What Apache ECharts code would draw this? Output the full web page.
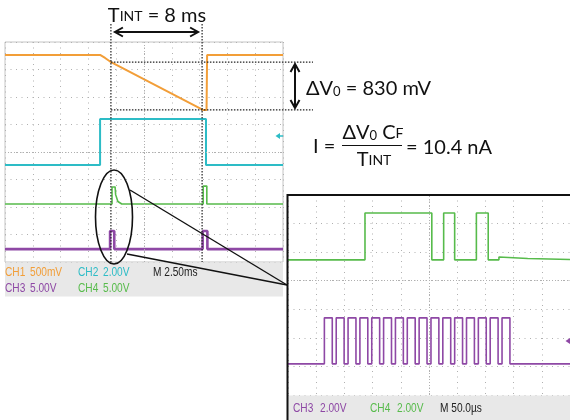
<!DOCTYPE html>
<html><head><meta charset="utf-8">
<script src="https://cdn.jsdelivr.net/npm/echarts@6/dist/echarts.min.js"></script>
<style>html,body{margin:0;padding:0;background:#fff}#c{width:570px;height:420px}</style>
</head><body><div id="c"></div>
<script>
// ---- main scope view (2.50 ms/div): x in divisions 0..10, y in divisions 0..8 ----
const ch1T = [0, 3.42, 3.6, 3.78, 7.12, 7.25, 7.27, 10];
const ch1V = [7.53, 7.53, 7.42, 7.29, 5.53, 5.53, 7.53, 7.53];
const ch2T = [0, 3.42, 3.42, 7.23, 7.23, 10];
const ch2V = [3.53, 3.53, 5.2, 5.2, 3.53, 3.53];
const ch4T = [0, 3.85, 3.85, 3.96, 3.98, 4.06, 4.2, 7.13, 7.13, 7.26, 7.26, 10];
const ch4V = [2.11, 2.11, 2.73, 2.73, 2.45, 2.2, 2.11, 2.11, 2.76, 2.76, 2.11, 2.11];
const ch3T = [0, 3.78, 3.78, 3.93, 3.93, 7.11, 7.11, 7.28, 7.28, 10];
const ch3V = [0.47, 0.47, 1.13, 1.13, 0.47, 0.47, 1.13, 1.13, 0.47, 0.47];
// cursors
const cursorT = [3.81, 7.09];
const cursorV = [7.27, 5.53];

// ---- zoomed view (50.0 us/div): x 0..10, y 0..7 ----
const zGreenT = [0, 2.73, 2.73, 5.10, 5.10, 5.52, 5.52, 5.91, 5.91, 6.68, 6.68, 7.10, 7.10, 7.48, 7.48, 8.5, 10];
const zGreenV = [4.73, 4.73, 6.37, 6.37, 4.73, 4.73, 6.37, 6.37, 4.73, 4.73, 6.37, 6.37, 4.73, 4.73, 4.83, 4.78, 4.74];
const zPurpleRise = [1.29, 1.71, 2.13, 2.55, 2.97, 3.39, 3.81, 4.23, 4.65, 5.07, 5.49, 5.91, 6.33, 6.75, 7.17, 7.59];
const zPurpleFall = [1.57, 1.99, 2.41, 2.83, 3.25, 3.67, 4.09, 4.51, 4.93, 5.35, 5.77, 6.19, 6.61, 7.03, 7.45, 7.87];
const zPurpleLevels = [1.09, 2.70];

// ---- texts ----
const mainLabels = [
  ['CH1', '500mV', 'CH2', '2.00V', 'M 2.50ms'],
  ['CH3', '5.00V', 'CH4', '5.00V', '']
];
const zoomLabels = ['CH3', '2.00V', 'CH4', '2.00V', 'M 50.0\u00b5s'];

const C_OR = '#f29e38', C_CY = '#2dbcc6', C_GR = '#57bb4b', C_PU = '#8e48a5';

function pairs(t, v) { return t.map((x, i) => [x, v[i]]); }
function pulses(rise, fall, lv, t0, t1) {
  const d = [[t0, lv[0]]];
  rise.forEach((r, i) => { d.push([r, lv[0]], [r, lv[1]], [fall[i], lv[1]], [fall[i], lv[0]]); });
  d.push([t1, lv[0]]);
  return d;
}

const chart = echarts.init(document.getElementById('c'), null, { renderer: 'canvas', width: 570, height: 420 });

const split = { show: true, lineStyle: { color: '#b0b0b0', type: [1, 4.5], width: 1 } };
function ax(gi, max) {
  return { gridIndex: gi, type: 'value', min: 0, max: max, interval: 1,
    axisLabel: { show: false }, axisTick: { show: false }, axisLine: { show: false }, splitLine: split };
}
const centerMark = (x, y) => ({
  symbol: 'none', silent: true, label: { show: false }, animation: false,
  lineStyle: { type: [1, 2], color: '#b0b0b0', width: 1 },
  data: [{ xAxis: x }, { yAxis: y }]
});
function trace(gi, data, color, w, mark) {
  const s = { type: 'line', xAxisIndex: gi, yAxisIndex: gi, data: data, showSymbol: false, symbol: 'none',
    lineStyle: { color: color, width: w }, itemStyle: { color: color }, z: 3, silent: true };
  if (mark) s.markLine = mark;
  return s;
}

chart.setOption({
  animation: false,
  backgroundColor: '#fff',
  grid: [
    { left: 5, top: 42, width: 278, height: 220, show: true, borderColor: '#c4c4c4', borderWidth: 1, backgroundColor: '#fff' },
    { left: 288, top: 195, width: 286, height: 200, show: false }
  ],
  xAxis: [ax(0, 10), ax(1, 10)],
  yAxis: [ax(0, 8), ax(1, 7)],
  series: [
    trace(0, pairs(ch1T, ch1V), C_OR, 2, centerMark(5, 4)),
    trace(0, pairs(ch2T, ch2V), C_CY, 2),
    trace(0, pairs(ch4T, ch4V), C_GR, 1.6),
    trace(0, pairs(ch3T, ch3V), C_PU, 2.6),
    trace(1, pairs(zGreenT, zGreenV), C_GR, 1.6, centerMark(5, 4)),
    trace(1, pulses(zPurpleRise, zPurpleFall, zPurpleLevels, 0, 10), C_PU, 1.6)
  ]
});

// ---- annotations ----
const p = (x, y) => chart.convertToPixel({ gridIndex: 0 }, [x, y]);
const cx0 = p(cursorT[0], 0)[0], cx1 = p(cursorT[1], 0)[0];
const gBottom = p(0, 0)[1];
const cy0 = p(0, cursorV[0])[1], cy1 = p(0, cursorV[1])[1];

const lblFont = '"Liberation Sans", Arial, sans-serif';
const annFont = 'Lato, "Open Sans", sans-serif';
const dot = { stroke: '#222', lineWidth: 1.2, lineDash: [1.5, 1.5] };
const blk = { stroke: '#111', lineWidth: 1.4, fill: 'none' };

function txt(x, y, s, color) {
  return { type: 'text', x: x, y: y, z: 20, silent: true, scaleX: 0.78, scaleY: 1,
    style: { text: s, fill: color, fontSize: 13, fontFamily: lblFont, align: 'left', verticalAlign: 'middle' } };
}
function rich(x, y, s, align) {
  const base = { fill: '#111', color: '#111', fontFamily: annFont, verticalAlign: 'bottom', lineHeight: 24 };
  return { type: 'text', x: x, y: y, z: 20, silent: true,
    style: { text: s, align: align || 'left', verticalAlign: 'middle', fontFamily: annFont, fontSize: 20, fill: '#111',
      rich: {
        a: Object.assign({}, base, { fontSize: 20 }),
        b: Object.assign({}, base, { fontSize: 14, padding: [0, 0, 3, 0] }),
        s: Object.assign({}, base, { fontSize: 13, padding: [0, 0, 1, 0] })
      } } };
}
function dArrowH(x0, x1, y) {
  return [
    { type: 'line', z: 20, shape: { x1: x0, y1: y, x2: x1, y2: y }, style: { stroke: '#111', lineWidth: 2 } },
    { type: 'polyline', z: 20, shape: { points: [[x0 + 8, y - 4.5], [x0, y], [x0 + 8, y + 4.5]] }, style: { stroke: '#111', lineWidth: 2, fill: 'none' } },
    { type: 'polyline', z: 20, shape: { points: [[x1 - 8, y - 4.5], [x1, y], [x1 - 8, y + 4.5]] }, style: { stroke: '#111', lineWidth: 2, fill: 'none' } }
  ];
}
function dArrowV(x, y0, y1) {
  return [
    { type: 'line', z: 20, shape: { x1: x, y1: y0, x2: x, y2: y1 }, style: { stroke: '#111', lineWidth: 2 } },
    { type: 'polyline', z: 20, shape: { points: [[x - 4.5, y0 + 8], [x, y0], [x + 4.5, y0 + 8]] }, style: { stroke: '#111', lineWidth: 2, fill: 'none' } },
    { type: 'polyline', z: 20, shape: { points: [[x - 4.5, y1 - 8], [x, y1], [x + 4.5, y1 - 8]] }, style: { stroke: '#111', lineWidth: 2, fill: 'none' } }
  ];
}

const g = [];
// label areas
g.push({ type: 'rect', z: 5, shape: { x: 5, y: 262.5, width: 278, height: 34 }, style: { fill: '#e8e8e8' } });
g.push({ type: 'rect', z: 5, shape: { x: 288, y: 395.5, width: 290, height: 30 }, style: { fill: '#e8e8e8' } });
// main labels
const mainCols = [5, 30, 78, 103, 153];
const mainColors = [[C_OR, C_OR, C_CY, C_CY, '#222'], [C_PU, C_PU, C_GR, C_GR, '#222']];
const mainRows = [272, 288];
mainLabels.forEach((row, r) => row.forEach((s, c) => { if (s) g.push(txt(mainCols[c], mainRows[r], s, mainColors[r][c])); }));
const zCols = [293, 320, 370, 397, 440];
const zColors = [C_PU, C_PU, C_GR, C_GR, '#222'];
zoomLabels.forEach((s, c) => g.push(txt(zCols[c], 408, s, zColors[c])));
// inset frame
g.push({ type: 'rect', z: 15, shape: { x: 287.5, y: 195, width: 300, height: 240 }, style: { stroke: '#111', lineWidth: 2, fill: 'none' } });
// cursors
cursorT.forEach((t) => { const x = p(t, 0)[0]; g.push({ type: 'line', z: 12, shape: { x1: x, y1: 24, x2: x, y2: gBottom }, style: dot }); });
[cy0, cy1].forEach((y) => g.push({ type: 'line', z: 12, shape: { x1: cx0, y1: y, x2: 313, y2: y }, style: dot }));
// arrows
dArrowH(cx0 + 4, cx1 - 4, 32).forEach(e => g.push(e));
dArrowV(295, cy0 + 2, cy1 - 2).forEach(e => g.push(e));
// texts
g.push(rich(157, 14, '{a|T}{b|INT}{a| = 8 ms}', 'center'));
g.push(rich(306, 87, '{a|\u0394V}{s|0}{a| = 830 mV}', 'left'));
g.push(rich(313, 145, '{a|I =}', 'left'));
g.push(rich(373, 131, '{a|\u0394V}{s|0}{a| C}{b|F}', 'center'));
g.push({ type: 'line', z: 20, shape: { x1: 342, y1: 145.5, x2: 402, y2: 145.5 }, style: { stroke: '#111', lineWidth: 1.2 } });
g.push(rich(374, 158, '{a|T}{b|INT}', 'center'));
g.push(rich(406, 146, '{a|= 10.4 nA}', 'left'));
// ellipse + callout
g.push({ type: 'ellipse', z: 18, shape: { cx: 114, cy: 217, rx: 18.5, ry: 47 }, style: { stroke: '#111', lineWidth: 1.6, fill: 'none' } });
g.push({ type: 'line', z: 18, shape: { x1: 130, y1: 190, x2: 287, y2: 285 }, style: blk });
g.push({ type: 'line', z: 18, shape: { x1: 127, y1: 254, x2: 287, y2: 285 }, style: blk });
// ground markers
g.push({ type: 'polygon', z: 14, shape: { points: [[275.5, 136], [280, 133], [280, 139]] }, style: { fill: C_CY } });
g.push({ type: 'line', z: 14, shape: { x1: 279, y1: 136, x2: 283, y2: 136 }, style: { stroke: C_CY, lineWidth: 1.5 } });
g.push({ type: 'polygon', z: 14, shape: { points: [[565.5, 341], [570, 338], [570, 344]] }, style: { fill: C_PU } });

chart.setOption({ graphic: { elements: g } });
</script>
</body></html>
